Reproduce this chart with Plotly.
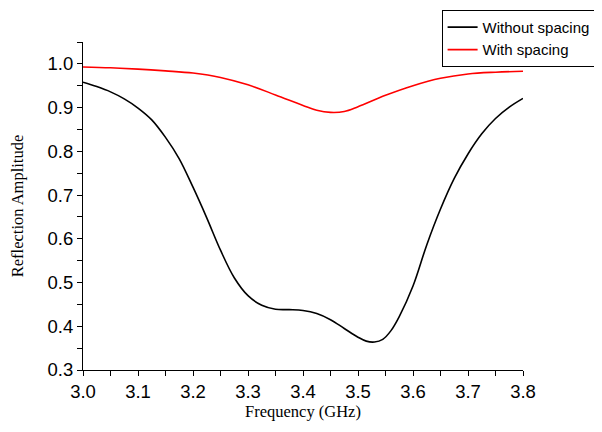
import plotly.graph_objects as go

freq_without = [3.000, 3.025, 3.050, 3.075, 3.100, 3.125, 3.150, 3.175, 3.200, 3.225,
                3.250, 3.275, 3.300, 3.325, 3.350, 3.375, 3.400, 3.425, 3.450, 3.475,
                3.500, 3.515, 3.530, 3.545, 3.560, 3.575, 3.600, 3.625, 3.650, 3.675,
                3.700, 3.725, 3.750, 3.775, 3.800]
refl_without = [0.958, 0.948, 0.936, 0.920, 0.899, 0.872, 0.832, 0.783, 0.718, 0.648,
                0.574, 0.511, 0.470, 0.448, 0.439, 0.438, 0.436, 0.429, 0.415, 0.395,
                0.375, 0.366, 0.364, 0.370, 0.390, 0.422, 0.492, 0.586, 0.668, 0.738,
                0.794, 0.840, 0.875, 0.901, 0.921]

freq_with = [3.00, 3.05, 3.10, 3.15, 3.20, 3.25, 3.30, 3.35, 3.40, 3.425, 3.45, 3.475,
             3.50, 3.55, 3.60, 3.65, 3.70, 3.75, 3.80]
refl_with = [0.993, 0.991, 0.988, 0.984, 0.979, 0.969, 0.952, 0.929, 0.905, 0.894, 0.889,
             0.891, 0.902, 0.928, 0.950, 0.967, 0.977, 0.981, 0.983]

x_ticks = [3.0, 3.1, 3.2, 3.3, 3.4, 3.5, 3.6, 3.7, 3.8]
y_ticks = [0.3, 0.4, 0.5, 0.6, 0.7, 0.8, 0.9, 1.0]

fig = go.Figure()
fig.add_trace(go.Scatter(x=freq_without, y=refl_without, mode="lines", name="Without spacing",
                         line=dict(color="black", width=1.6, shape="spline", smoothing=1.0)))
fig.add_trace(go.Scatter(x=freq_with, y=refl_with, mode="lines", name="With spacing",
                         line=dict(color="#ff0000", width=1.6, shape="spline", smoothing=1.0)))

axis_common = dict(showline=True, linecolor="black", linewidth=1.2, ticks="outside",
                   ticklen=5, tickwidth=1.2, tickcolor="black", showgrid=False, zeroline=False,
                   mirror=False, automargin=False,
                   tickfont=dict(family="Liberation Sans, Arial", size=18.5, color="black"))

fig.update_xaxes(range=[3.0, 3.8], tickvals=x_ticks, ticktext=[f"{v:.1f}" for v in x_ticks],
                 minor=dict(ticks="outside", ticklen=5, tickwidth=1.2, tickcolor="black", dtick=0.05,
                            tick0=3.0),
                 title=dict(text="Frequency (GHz)", font=dict(family="Liberation Serif, Times New Roman", size=16.5, color="black"),
                            standoff=3),
                 **axis_common)
fig.update_yaxes(range=[0.3, 1.05], tickvals=y_ticks, ticktext=[f"{v:.1f}" for v in y_ticks],
                 minor=dict(ticks="outside", ticklen=5, tickwidth=1.2, tickcolor="black", dtick=0.05,
                            tick0=0.3),
                 title=dict(text="Reflection Amplitude", font=dict(family="Liberation Serif, Times New Roman", size=16.5, color="black"),
                            standoff=24),
                 **axis_common)

# page body has an 8px default margin: figure is sized/offset accordingly
fig.update_layout(
    width=594, height=416,
    margin=dict(l=75, r=79, t=34, b=54, autoexpand=False),
    plot_bgcolor="white", paper_bgcolor="white",
    showlegend=True,
    legend=dict(x=0.815, y=1.098, xanchor="left", yanchor="top",
                bordercolor="black", borderwidth=1, bgcolor="white",
                font=dict(family="Liberation Sans, Arial", size=15, color="black"),
                tracegroupgap=0, itemwidth=30),
)

fig.write_html("out.html")
